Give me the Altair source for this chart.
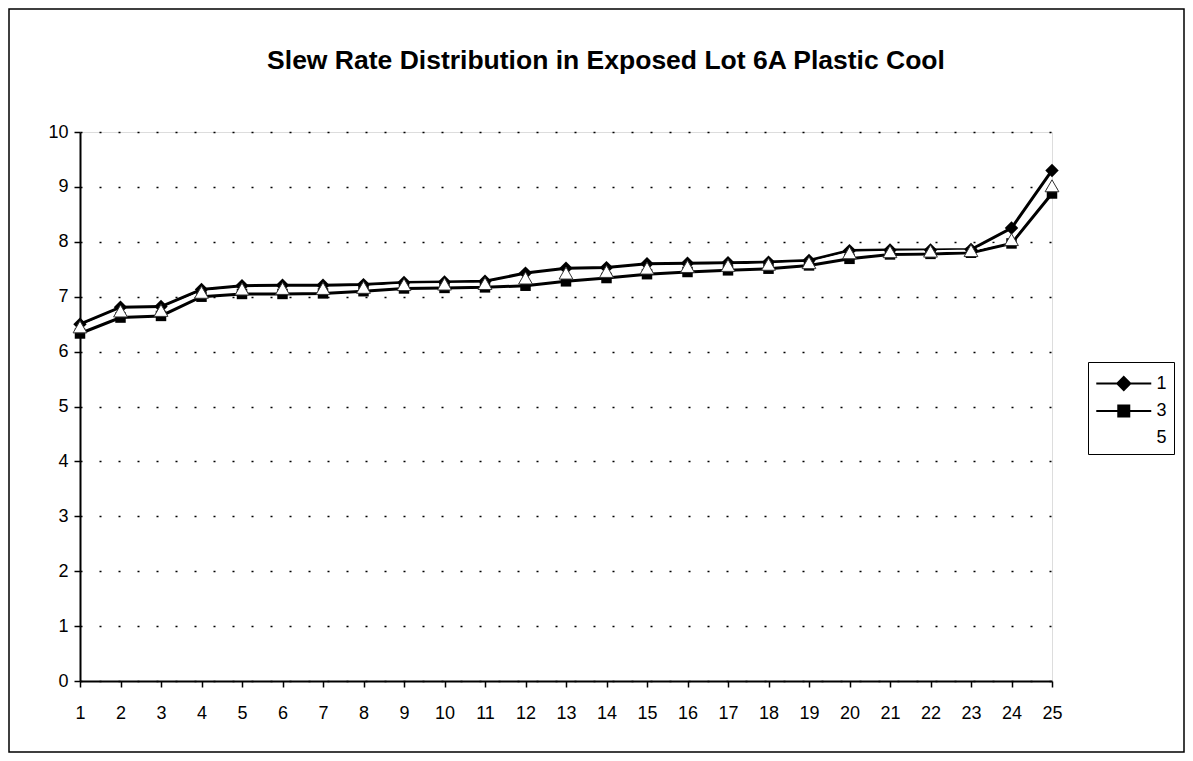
import altair as alt
import pandas as pd
import math

# ---- data ----
idx = list(range(1, 26))
s1 = [6.50, 6.81, 6.82, 7.13, 7.20, 7.21, 7.21, 7.22, 7.26, 7.27, 7.28, 7.43, 7.52,
      7.53, 7.60, 7.61, 7.62, 7.63, 7.66, 7.84, 7.85, 7.85, 7.86, 8.25, 9.30]
s3 = [6.33, 6.62, 6.65, 7.00, 7.05, 7.05, 7.06, 7.10, 7.15, 7.16, 7.17, 7.20, 7.28,
      7.34, 7.41, 7.45, 7.48, 7.51, 7.57, 7.69, 7.77, 7.78, 7.80, 7.97, 8.88]
s5 = [6.45, 6.74, 6.75, 7.08, 7.14, 7.15, 7.15, 7.17, 7.22, 7.23, 7.24, 7.34, 7.43,
      7.46, 7.52, 7.55, 7.57, 7.59, 7.62, 7.80, 7.82, 7.83, 7.84, 8.04, 9.02]
series_names = ["1", "3", "5"]
y_ticks = list(range(0, 11))
title_text = "Slew Rate Distribution in Exposed Lot 6A Plastic Cool"

rows = []
for name, vals in zip(series_names, [s1, s3, s5]):
    for i, v in zip(idx, vals):
        rows.append({"idx": i, "value": v, "series": name})
df = pd.DataFrame(rows)

FONT = "Liberation Sans"

x_enc = alt.X("idx:Q",
              scale=alt.Scale(domain=[1, 25], nice=False, zero=False),
              axis=alt.Axis(values=idx, format="d", title=None, grid=False,
                            tickSize=6, tickWidth=1.5, tickColor="black",
                            domainColor="black", domainWidth=2,
                            labelFontSize=18, labelFont=FONT, labelColor="black",
                            labelPadding=17, labelFlush=False))
y_enc = alt.Y("value:Q",
              scale=alt.Scale(domain=[0, 10], nice=False, zero=True),
              axis=alt.Axis(values=y_ticks, title=None, grid=True,
                            gridColor="black", gridDash=[2, 17], gridWidth=1.5,
                            tickSize=6, tickWidth=1.5, tickColor="black",
                            domainColor="black", domainWidth=2,
                            labelFontSize=18, labelFont=FONT, labelColor="black",
                            labelPadding=6))

base = alt.Chart(df)

def sel(name):
    return base.transform_filter(alt.datum.series == name)

line1 = sel("1").mark_line(color="black", strokeWidth=3).encode(x=x_enc, y=y_enc)
line3 = sel("3").mark_line(color="black", strokeWidth=3).encode(x=x_enc, y=y_enc)
line5 = sel("5").mark_line(color="white", strokeWidth=2).encode(x=x_enc, y=y_enc)
pt1 = sel("1").mark_point(shape="diamond", filled=True, color="black", size=180, opacity=1).encode(x=x_enc, y=y_enc)
pt3 = sel("3").mark_point(shape="square", filled=True, color="black", size=110, opacity=1).encode(x=x_enc, y=y_enc)
pt5 = sel("5").mark_point(shape="triangle-up", fill="white", stroke="#333333", strokeWidth=1,
                          size=190, opacity=1, filled=True).encode(x=x_enc, y=y_enc)

# legend symbols: a 55px line with the series' marker in its middle
SYM = 700
r = math.sqrt(SYM) / 2.0
L0 = -r
L1 = -r + 55
MC = (L0 + L1) / 2.0

def u(px):
    return round(px / r, 4)

p1 = (f"M{u(L0)},0L{u(L1)},0"
      f"M{u(MC)},{u(-6.5)}L{u(MC + 6.5)},0L{u(MC)},{u(6.5)}L{u(MC - 6.5)},0Z")
p3 = (f"M{u(L0)},0L{u(L1)},0"
      f"M{u(MC - 5.5)},{u(-5.5)}L{u(MC + 5.5)},{u(-5.5)}L{u(MC + 5.5)},{u(5.5)}L{u(MC - 5.5)},{u(5.5)}Z")
p5 = (f"M{u(L0)},0L{u(L1)},0"
      f"M{u(MC)},{u(-6)}L{u(MC + 6)},{u(5)}L{u(MC - 6)},{u(5)}Z")
leg = alt.Legend(title=None, orient="none", legendX=1008, legendY=230,
                 symbolSize=SYM, symbolStrokeWidth=2,
                 labelFontSize=18, labelFont=FONT, labelColor="black",
                 strokeColor="black", padding=7, fillColor="white",
                 rowPadding=1.5, labelOffset=4 + (55 - 2 * r))
legend_layer = base.transform_filter("false").mark_point(filled=True, size=SYM, opacity=1).encode(
    shape=alt.Shape("series:N", scale=alt.Scale(domain=series_names, range=[p1, p3, p5]), legend=leg),
    fill=alt.Fill("series:N", scale=alt.Scale(domain=series_names, range=["black", "black", "white"]), legend=leg),
    stroke=alt.Stroke("series:N", scale=alt.Scale(domain=series_names, range=["black", "black", "white"]), legend=leg),
)

frame = alt.Chart(pd.DataFrame({"a": [0]})).mark_rect(filled=False, stroke="black", strokeWidth=1.5).encode(
    x=alt.value(-71), x2=alt.value(1104), y=alt.value(-123), y2=alt.value(620))

chart = alt.layer(frame, line1, line3, line5, pt1, pt3, pt5, legend_layer).properties(
    width=972, height=549,
    padding={"left": 72, "top": 124, "right": 133, "bottom": 72},
    autosize=alt.AutoSizeParams(type="none"),
    title=alt.Title(title_text, fontSize=26.5, font=FONT, fontWeight="bold", color="black",
                    anchor="middle", dx=40, offset=-66),
).configure_view(stroke="black", strokeWidth=2).configure(background="white")

chart.save("out.html", embed_options={"renderer": "svg", "actions": False})
